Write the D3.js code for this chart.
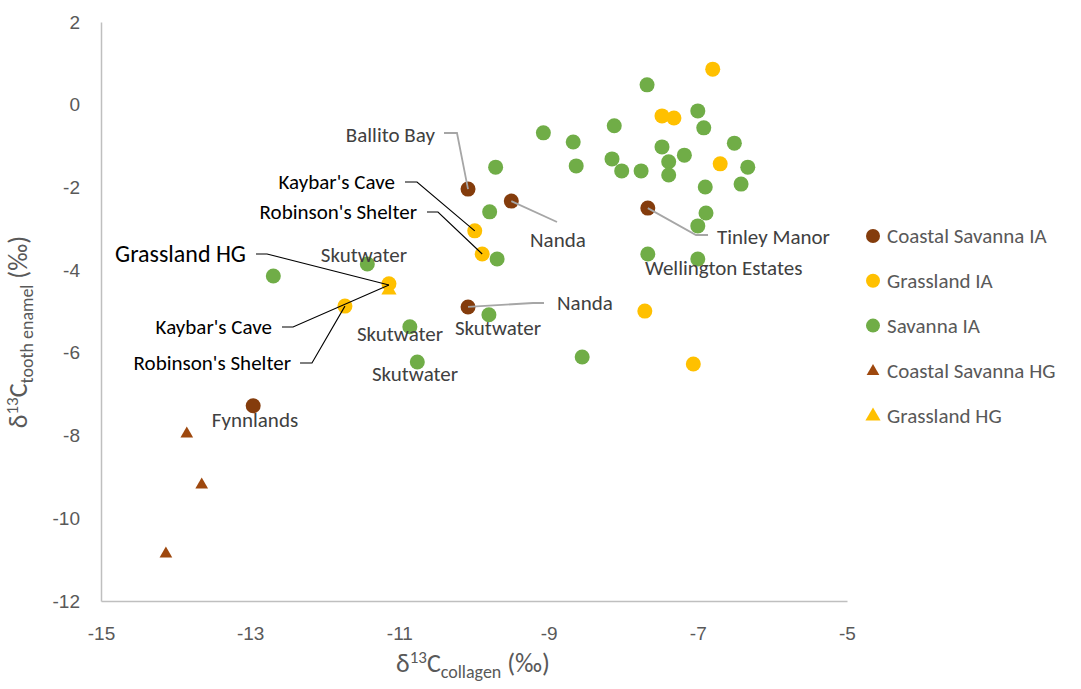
<!DOCTYPE html>
<html><head><meta charset="utf-8">
<script src="https://cdn.jsdelivr.net/npm/d3@7"></script>
<style>
html,body{margin:0;padding:0;background:#fff;}
svg{display:block;font-family:Carlito,Lato,"Noto Sans",sans-serif;}
</style></head>
<body><svg id="c" width="1081" height="689"></svg>
<script>
// ---- data (δ13C collagen, δ13C tooth enamel) ----
const seriesNames = ["Coastal Savanna IA","Grassland IA","Savanna IA","Coastal Savanna HG","Grassland HG"];
const coastalSavannaIA = [[-10.08,-2.04],[-9.50,-2.33],[-7.67,-2.50],[-10.08,-4.89],[-12.96,-7.28]];
const grasslandIA = [[-6.80,0.86],[-7.48,-0.27],[-7.32,-0.32],[-6.70,-1.43],[-9.99,-3.05],[-9.89,-3.61],
  [-11.14,-4.33],[-11.73,-4.87],[-7.71,-4.99],[-7.06,-6.27]];
const savannaIA = [[-7.68,0.48],[-7.00,-0.15],[-6.92,-0.56],[-8.12,-0.51],[-9.07,-0.68],[-8.67,-0.90],
  [-7.48,-1.02],[-6.51,-0.93],[-8.15,-1.31],[-7.18,-1.22],[-7.39,-1.38],[-9.71,-1.51],[-8.63,-1.48],
  [-8.02,-1.60],[-7.76,-1.60],[-7.39,-1.70],[-6.33,-1.51],[-6.42,-1.92],[-6.90,-1.99],[-9.79,-2.59],
  [-6.89,-2.62],[-7.00,-2.93],[-9.69,-3.73],[-7.67,-3.61],[-7.00,-3.73],[-11.43,-3.85],[-12.69,-4.14],
  [-10.86,-5.37],[-9.80,-5.08],[-8.55,-6.10],[-10.76,-6.22]];
const coastalSavannaHG = [[-13.85,-7.96],[-13.65,-9.19],[-14.13,-10.86]];
const grasslandHG = [[-11.14,-4.48]];
const xTicks = [-15,-13,-11,-9,-7,-5];
const yTicks = [2,0,-2,-4,-6,-8,-10,-12];

// annotations: text, anchor, label position (data units), leader path (data units, ends at the point)
const annotations = [
  {t:"Ballito Bay", a:"end", k:"grey", pos:[-10.523,-0.732], path:[[-10.402,-0.684],[-10.228,-0.684],[-10.08,-2.04]]},
  {t:"Kaybar's Cave", a:"end", k:"black", pos:[-11.06,-1.87], path:[[-10.925,-1.87],[-10.764,-1.87],[-9.99,-3.05]]},
  {t:"Robinson's Shelter", a:"end", k:"black", pos:[-10.764,-2.594], path:[[-10.630,-2.594],[-10.483,-2.594],[-9.89,-3.61]]},
  {t:"Grassland HG", a:"end", k:"big", pos:[-13.056,-3.61], path:[[-12.922,-3.61],[-12.774,-3.61],[-11.14,-4.36]]},
  {t:"Kaybar's Cave", a:"end", k:"black", pos:[-12.708,-5.374], path:[[-12.574,-5.374],[-12.426,-5.374],[-11.14,-4.36]]},
  {t:"Robinson's Shelter", a:"end", k:"black", pos:[-12.453,-6.245], path:[[-12.332,-6.245],[-12.172,-6.245],[-11.73,-4.87]]},
  {t:"Nanda", a:"start", k:"grey", pos:[-8.887,-4.794], path:[[-10.08,-4.89],[-9.209,-4.794],[-9.062,-4.794]]},
  {t:"Nanda", a:"start", k:"grey", pos:[-9.249,-3.271], path:[[-9.50,-2.33],[-8.887,-2.836]]},
  {t:"Tinley Manor", a:"start", k:"grey", pos:[-6.743,-3.198], path:[[-7.67,-2.50],[-7.024,-3.150],[-6.863,-3.150]]},
  {t:"Wellington Estates", a:"start", k:"grey", pos:[-7.708,-3.948]},
  {t:"Skutwater", a:"middle", k:"grey", pos:[-11.475,-3.633]},
  {t:"Skutwater", a:"middle", k:"grey", pos:[-10.992,-5.544]},
  {t:"Skutwater", a:"middle", k:"grey", pos:[-10.791,-6.511]},
  {t:"Skutwater", a:"middle", k:"grey", pos:[-9.678,-5.398]},
  {t:"Fynnlands", a:"middle", k:"grey", pos:[-12.936,-7.623]}
];

const colors = ["#843C0C","#FFC000","#70AD47","#9E480E","#FFC000"];
const shapes = ["circle","circle","circle","tri","tri"];
const triSize = [0,0,0,70,100];

const svg = d3.select("#c");
const x = d3.scaleLinear().domain([-15,-5]).range([101,847]);
const y = d3.scaleLinear().domain([-12,2]).range([601,22]);

// axes
const gx = svg.append("g").attr("transform","translate(0,601)")
  .call(d3.axisBottom(x).tickValues(xTicks).tickSize(0).tickPadding(25).tickFormat(d=>String(d)));
const gy = svg.append("g").attr("transform","translate(101,0)")
  .call(d3.axisLeft(y).tickValues(yTicks).tickSize(0).tickPadding(21).tickFormat(d=>String(d)));
[gx,gy].forEach(g=>{
  g.select(".domain").attr("stroke","#bfbfbf").attr("stroke-width",1.5);
  g.selectAll("text").attr("fill","#595959").style("font-size","19px").style("font-family",null);
});
gx.selectAll("text").attr("dy","0.32em").attr("y",33);

// axis titles
const xt = svg.append("text").attr("x",473).attr("y",672).attr("text-anchor","middle")
  .attr("fill","#595959").style("font-size","26px");
xt.append("tspan").text("δ");
xt.append("tspan").text("13").attr("dy",-9).style("font-size","17px");
xt.append("tspan").text("C").attr("dy",9);
xt.append("tspan").text("collagen").attr("dy",6).style("font-size","18px");
xt.append("tspan").text(" (‰)").attr("dy",-6);

const yt = svg.append("text").attr("transform","translate(27,332) rotate(-90)").attr("text-anchor","middle")
  .attr("fill","#595959").style("font-size","26px");
yt.append("tspan").text("δ");
yt.append("tspan").text("13").attr("dy",-9).style("font-size","17px");
yt.append("tspan").text("C").attr("dy",9);
yt.append("tspan").text("tooth enamel").attr("dy",6).style("font-size","18px");
yt.append("tspan").text(" (‰)").attr("dy",-6);

// points
const allSeries = [coastalSavannaIA, grasslandIA, savannaIA, coastalSavannaHG, grasslandHG];
const plot = svg.append("g");
allSeries.forEach((data,i)=>{
  const g = plot.append("g");
  if(shapes[i]==="circle"){
    g.selectAll("circle").data(data).join("circle")
      .attr("cx",d=>x(d[0])).attr("cy",d=>y(d[1])).attr("r",7.5).attr("fill",colors[i]);
  } else {
    g.selectAll("path").data(data).join("path")
      .attr("d",d3.symbol(d3.symbolTriangle,triSize[i]))
      .attr("transform",d=>`translate(${x(d[0])},${y(d[1])})`).attr("fill",colors[i]);
  }
});

// annotations
const line = d3.line().x(d=>x(d[0])).y(d=>y(d[1]));
const ag = svg.append("g");
annotations.forEach(a=>{
  if(a.path){
    ag.append("path").attr("d",line(a.path)).attr("fill","none")
      .attr("stroke",a.k==="grey"?"#a6a6a6":"#000").attr("stroke-width",a.k==="grey"?1.8:1.1);
  }
  ag.append("text").attr("x",x(a.pos[0])).attr("y",y(a.pos[1])).attr("dy","0.35em")
    .attr("text-anchor",a.a)
    .attr("fill",a.k==="grey"?"#404040":"#000")
    .style("font-size",a.k==="big"?"24px":"21px")
    .text(a.t);
});

// legend
const lg = svg.append("g").attr("transform","translate(873,236)");
seriesNames.forEach((n,i)=>{
  const row = lg.append("g").attr("transform",`translate(0,${i*44.8})`);
  if(shapes[i]==="circle") row.append("circle").attr("r",7).attr("fill",colors[i]);
  else row.append("path").attr("d",d3.symbol(d3.symbolTriangle,triSize[i]).call()).attr("transform","translate(0,1)").attr("fill",colors[i]);
  row.append("text").attr("x",14).attr("dy","0.35em").attr("fill","#595959").style("font-size","21px").text(n);
});
</script></body></html>
